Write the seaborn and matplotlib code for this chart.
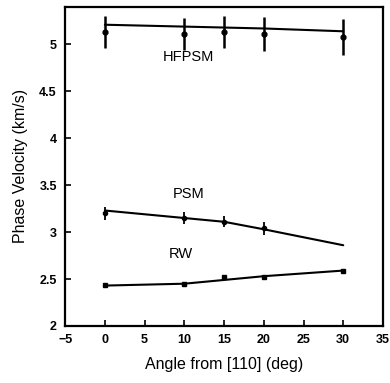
import numpy as np
import pandas as pd
import seaborn as sns
import matplotlib.pyplot as plt

# angles where measurements were made
angles = [0, 10, 15, 20, 30]

# measured phase velocities (km/s) and error bars
hfpsm_meas = [5.13, 5.11, 5.13, 5.11, 5.08]
hfpsm_err = [0.17, 0.17, 0.17, 0.18, 0.19]
psm_meas = [3.20, 3.15, 3.11, 3.04, np.nan]
psm_err = [0.07, 0.06, 0.06, 0.07, 0.0]
rw_meas = [2.44, 2.45, 2.52, 2.52, 2.59]

# fitted curves
hfpsm_fit = [5.21, 5.19, 5.18, 5.17, 5.14]
psm_fit = [3.23, 3.15, 3.11, 3.03, 2.86]
rw_fit = [2.43, 2.45, 2.49, 2.53, 2.59]

sns.set_style('ticks')
plt.rcParams['font.family'] = ['Liberation Sans', 'DejaVu Sans']
plt.rcParams['text.color'] = 'black'
plt.rcParams['axes.labelcolor'] = 'black'
plt.rcParams['xtick.color'] = 'black'
plt.rcParams['ytick.color'] = 'black'

fig = plt.figure(figsize=(3.9, 3.83), dpi=100)
ax = fig.add_axes([0.167, 0.149, 0.815, 0.833])

fits = pd.DataFrame({
    'angle': angles * 3,
    'vel': hfpsm_fit + psm_fit + rw_fit,
    'mode': ['HFPSM'] * 5 + ['PSM'] * 5 + ['RW'] * 5,
})
sns.lineplot(data=fits, x='angle', y='vel', units='mode', estimator=None,
             color='black', linewidth=1.5, ax=ax)

ax.errorbar(angles, hfpsm_meas, yerr=hfpsm_err, fmt='o', color='black',
            ms=3.5, elinewidth=1.8, capsize=0)
ax.errorbar(angles, psm_meas, yerr=psm_err, fmt='o', color='black',
            ms=3, elinewidth=1.3, capsize=0)
ax.plot(angles, rw_meas, 's', color='black', ms=2.5)

ax.text(10.5, 4.82, 'HFPSM', ha='center', fontsize=10.5)
ax.text(10.5, 3.36, 'PSM', ha='center', fontsize=10.5)
ax.text(9.5, 2.72, 'RW', ha='center', fontsize=10.5)

ax.set_xlim(-5, 35)
ax.set_ylim(2, 5.4)
ax.set_xticks(range(-5, 40, 5))
ax.set_yticks([2, 2.5, 3, 3.5, 4, 4.5, 5])
ax.set_yticklabels(['2', '2.5', '3', '3.5', '4', '4.5', '5'])
ax.tick_params(direction='in', length=4, width=1.2, labelsize=9, pad=6)
for lab in ax.get_xticklabels() + ax.get_yticklabels():
    lab.set_fontweight('bold')
for s in ax.spines.values():
    s.set_linewidth(1.6)
    s.set_color('black')

ax.set_xlabel('Angle from [110] (deg)', fontsize=11.5, labelpad=8)
ax.set_ylabel('Phase Velocity (km/s)', fontsize=11.5, labelpad=8)

fig.savefig('out.png', dpi=100)
